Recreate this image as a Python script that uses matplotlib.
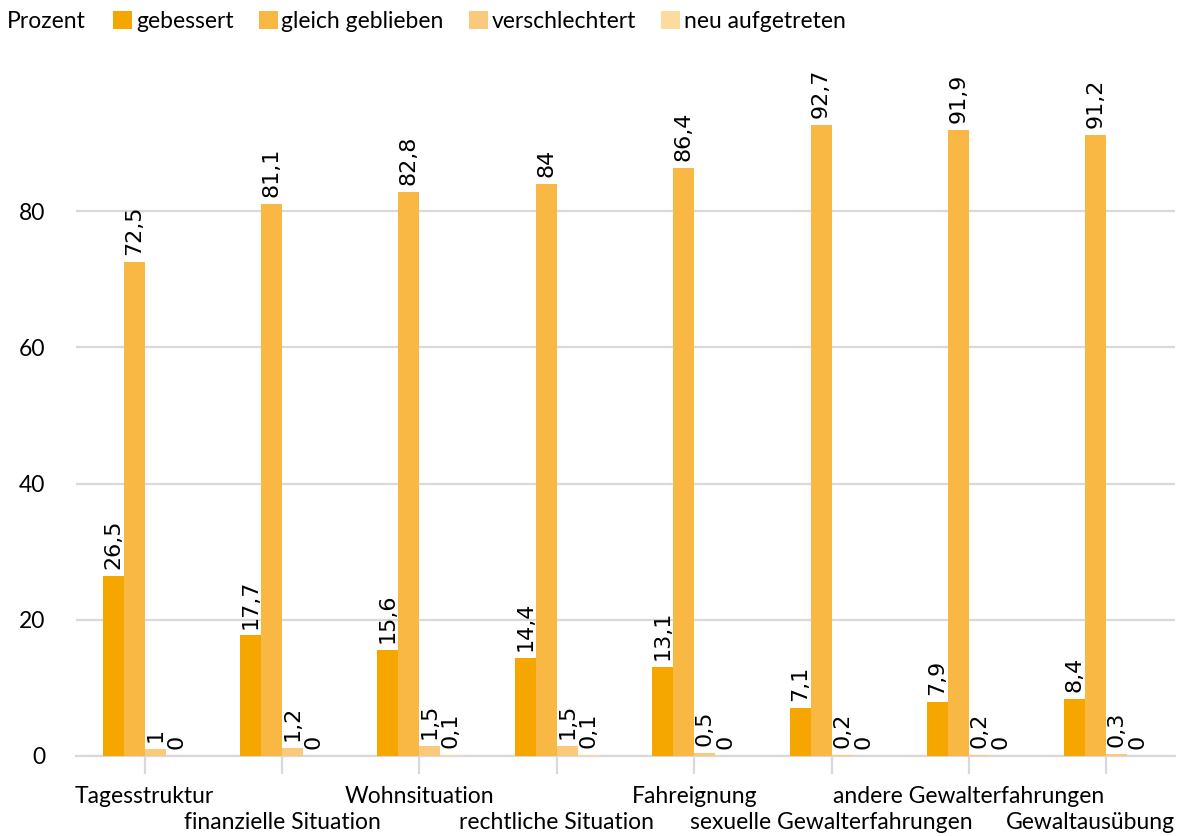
import matplotlib
matplotlib.use("Agg")
import matplotlib.pyplot as plt
import numpy as np

categories = ["Tagesstruktur", "finanzielle Situation", "Wohnsituation",
              "rechtliche Situation", "Fahreignung", "sexuelle Gewalterfahrungen",
              "andere Gewalterfahrungen", "Gewaltausübung"]
series_names = ["gebessert", "gleich geblieben", "verschlechtert", "neu aufgetreten"]
gebessert = [26.5, 17.7, 15.6, 14.4, 13.1, 7.1, 7.9, 8.4]
gleich_geblieben = [72.5, 81.1, 82.8, 84, 86.4, 92.7, 91.9, 91.2]
verschlechtert = [1, 1.2, 1.5, 1.5, 0.5, 0.2, 0.2, 0.3]
neu_aufgetreten = [0, 0, 0.1, 0.1, 0, 0, 0, 0]
y_ticks = [0, 20, 40, 60, 80]

series = [gebessert, gleich_geblieben, verschlechtert, neu_aufgetreten]
colors = ["#F5A700", "#F9B843", "#FBC97B", "#FDDB9E"]
grid_color = "#D9D9D9"
label_font = "Lato"
label_size = 16.5

def fmt(v):
    return f"{v:g}".replace(".", ",")

fig = plt.figure(figsize=(11.84, 8.36), dpi=100)
ax = fig.add_axes([76 / 1184, 1 - 756 / 836, (1175 - 76) / 1184, 681 / 836])

x = np.arange(len(categories))
bw = 0.153
for i, (vals, name, col) in enumerate(zip(series, series_names, colors)):
    offs = (i - 1.5) * bw
    bars = ax.bar(x + offs, vals, width=bw, color=col, label=name, zorder=3)
    for b, v in zip(bars, vals):
        ax.annotate(fmt(v), (b.get_x() + b.get_width() / 2, b.get_height()),
                    xytext=(0, 5), textcoords="offset points",
                    rotation=90, ha="center", va="bottom",
                    fontsize=16, family="DejaVu Sans", color="#000000")

ax.set_xlim(-0.5, len(categories) - 0.5)
ax.set_ylim(0, 100)
ax.set_yticks(y_ticks)
ax.set_yticklabels([str(t) for t in y_ticks], family=label_font, fontsize=label_size)
ax.yaxis.grid(True, color=grid_color, linewidth=1.6, zorder=0)
ax.tick_params(axis="y", length=0, pad=22)

# category ticks without built-in labels; labels are staggered in two rows
ax.set_xticks(x)
ax.set_xticklabels([])
ax.tick_params(axis="x", length=13, width=1.6, color=grid_color)

n = len(categories)
for i, c in enumerate(categories):
    dy = -34 if i % 2 == 0 else -52.5
    if i == n - 1:
        # keep the last label inside the plot's right edge
        ax.annotate(c, (1.0, 0), xycoords="axes fraction",
                    xytext=(0, dy), textcoords="offset points",
                    ha="right", va="baseline",
                    family=label_font, fontsize=label_size)
    else:
        ax.annotate(c, (x[i], 0), xycoords=("data", "axes fraction"),
                    xytext=(0, dy), textcoords="offset points",
                    ha="center", va="baseline",
                    family=label_font, fontsize=label_size)

for s in ["top", "right", "left"]:
    ax.spines[s].set_visible(False)
ax.spines["bottom"].set_color(grid_color)
ax.spines["bottom"].set_linewidth(1.6)
ax.spines["bottom"].set_zorder(2)

fig.text(7 / 1184, 1 - 21 / 836, "Prozent", family=label_font, fontsize=label_size,
         va="center", ha="left")
fig.legend(loc="center left", bbox_to_anchor=(113 / 1184, 1 - 21 / 836), ncol=4,
           frameon=False, prop={"family": label_font, "size": label_size},
           handlelength=0.83, handleheight=0.83, handletextpad=0.17,
           columnspacing=1.09, borderaxespad=0, borderpad=0)

fig.savefig("out.png", dpi=100)
